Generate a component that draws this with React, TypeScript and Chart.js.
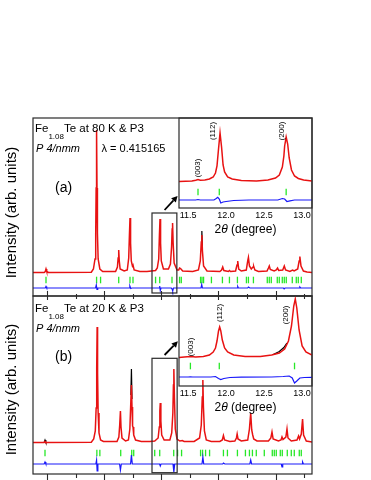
import React, { useEffect, useRef } from "react";
import { Chart, registerables } from "chart.js";
Chart.register(...registerables);

type P = [number, number | null];

// ---------- main panel (a): 80 K ----------
const calcA: P[] = [
  [3.0, 0.5], [3.8, 0.5], [3.88, 1.5], [3.93, 4], [3.98, 1.5], [4.1, 0.5],
  [7.1, 0.8], [7.25, 4], [7.36, 14], [7.41, 40], [7.44, 85], [7.47, 143], [7.5, 85], [7.53, 40], [7.58, 14], [7.7, 4], [7.9, 1.5],
  [8.8, 1.5], [8.93, 6], [8.98, 15], [9.02, 23], [9.06, 12], [9.12, 4], [9.4, 2],
  [9.62, 3], [9.72, 15], [9.77, 38], [9.81, 55], [9.85, 30], [9.9, 12], [9.98, 7], [10.02, 8], [10.1, 3], [10.5, 1.5],
  [11.0, 1.5], [11.6, 2.5], [11.72, 5], [11.82, 14], [11.87, 38], [11.91, 54], [11.95, 30], [12.0, 12], [12.15, 4],
  [12.5, 4], [12.64, 9], [12.72, 26], [12.76, 44], [12.79, 50], [12.83, 30], [12.9, 10], [13.1, 3], [13.22, 3], [13.28, 5], [13.35, 4.5], [13.5, 2],
  [14.2, 1.5], [14.6, 3], [14.73, 12], [14.8, 31], [14.84, 38], [14.88, 22], [14.96, 7], [15.2, 2],
  [16.1, 1.5], [16.22, 3], [16.3, 6], [16.38, 2.5], [16.7, 1.5], [16.77, 2.5], [16.85, 1.5],
  [17.2, 2], [17.3, 8], [17.35, 12], [17.42, 4], [17.6, 2],
  [17.95, 3], [18.05, 12], [18.1, 15.5], [18.17, 7], [18.3, 4], [18.42, 6], [18.47, 6.5], [18.55, 3], [18.8, 1.5],
  [19.4, 2], [19.5, 5], [19.56, 7], [19.63, 3.5], [19.9, 2], [20.05, 3], [20.14, 5], [20.22, 2.5],
  [20.5, 3], [20.61, 7], [20.7, 3], [21.0, 1.5], [21.19, 3], [21.3, 2], [21.55, 4], [21.65, 12], [21.7, 16.5], [21.78, 7], [21.95, 2], [22.2, 1], [22.6, 0.5],
];
const obsA: P[] = [[14.8, 28], [14.84, 42], [14.88, 24]];
const diffA: P[] = [
  [3.0, -15], [3.88, -15], [3.93, -13.5], [3.98, -15], [7.4, -15], [7.45, -12], [7.5, -16.5], [7.55, -15],
  [9.75, -15], [9.8, -13], [9.86, -15.5], [9.95, -15], [11.85, -15], [11.89, -13], [11.93, -17.5], [11.98, -15],
  [12.7, -15], [12.76, -16], [12.8, -18], [12.85, -15], [14.78, -15], [14.83, -11.5], [14.88, -15],
  [17.3, -15], [17.35, -13.5], [17.4, -15], [18.05, -15], [18.1, -14], [18.2, -15], [20.55, -15], [20.6, -15.8], [20.66, -15],
  [21.65, -15], [21.7, -14], [21.76, -15], [22.6, -15],
];
const braggA: number[] = [
  3.93, 7.47, 7.75, 9.02, 9.81, 10.02, 11.6, 11.89, 12.75, 13.28, 13.4,
  14.75, 14.85, 14.96, 15.51, 16.28, 16.77, 17.33, 17.96, 18.1, 18.45,
  19.42, 19.56, 19.7, 20.12, 20.26, 20.47, 20.61, 20.75, 21.17, 21.45, 21.59, 21.8,
];

// ---------- main panel (b): 20 K ----------
const calcB: P[] = [
  [3.0, 0.5], [3.8, 0.5], [3.86, 1.5], [3.92, 0.5],
  [7.1, 0.8], [7.27, 4], [7.38, 12], [7.44, 35], [7.48, 75], [7.51, 116], [7.54, 70], [7.58, 30], [7.64, 10], [7.75, 3], [7.95, 1.5],
  [8.9, 1.5], [9.03, 6], [9.09, 18], [9.14, 32], [9.18, 16], [9.25, 5], [9.5, 2],
  [9.7, 3], [9.8, 14], [9.87, 42], [9.91, 58], [9.95, 36], [9.99, 17], [10.02, 16], [10.07, 8], [10.2, 3], [10.6, 1.5],
  [11.2, 1.5], [11.54, 2], [11.78, 5], [11.86, 16], [11.9, 32], [11.93, 40], [11.97, 22], [12.03, 8], [12.2, 3],
  [12.6, 3], [12.73, 10], [12.81, 30], [12.85, 58], [12.88, 74], [12.92, 45], [12.98, 14], [13.1, 4], [13.3, 2], [13.47, 2.5], [13.6, 1.5],
  [14.3, 1.5], [14.68, 5], [14.8, 18], [14.87, 46], [14.91, 63], [14.95, 36], [15.02, 12], [15.15, 3], [15.5, 1.5],
  [16.1, 1.5], [16.27, 3], [16.35, 7.5], [16.43, 3], [16.8, 1.5],
  [17.15, 2], [17.26, 5], [17.31, 9], [17.37, 4], [17.6, 2],
  [18.05, 3], [18.17, 14], [18.26, 30], [18.33, 13], [18.4, 8], [18.47, 4], [18.7, 2],
  [19.5, 2], [19.67, 5], [19.75, 11], [19.83, 4], [20.2, 2], [20.38, 3], [20.45, 6], [20.52, 3.5],
  [20.72, 6], [20.8, 14], [20.87, 5], [21.1, 2], [21.5, 3], [21.61, 7], [21.68, 4], [21.8, 9], [21.89, 24], [21.96, 8], [22.15, 2], [22.6, 1],
];
const obsB: P[] = [[3.8, 0.5], [3.86, 3], [3.92, 0.5], [6, null], [9.87, 48], [9.91, 74], [9.95, 44]];
const diffB: P[] = [
  [3.0, -21], [3.8, -21], [3.86, -19], [3.92, -21], [7.42, -21], [7.47, -17], [7.51, -28], [7.56, -21],
  [9.08, -21], [9.14, -27], [9.2, -21], [9.85, -21], [9.91, -12], [9.97, -21], [11.88, -21], [11.93, -23], [11.98, -21],
  [12.82, -21], [12.88, -29], [12.94, -21], [14.85, -21], [14.91, -14], [14.97, -21], [16.3, -21], [16.35, -20], [16.45, -21],
  [18.2, -21], [18.26, -17], [18.32, -21], [20.4, -21], [20.45, -24], [20.5, -21], [21.85, -21], [21.89, -19], [21.95, -21], [22.6, -21],
];
const braggB: number[] = [
  3.86, 7.49, 7.7, 9.16, 9.93, 10.07, 11.54, 11.89, 12.87, 13.14, 13.42, 14.75, 14.89, 15.1, 15.38,
  16.35, 16.63, 17.33, 17.89, 18.17, 18.38, 18.65, 19.21, 19.77, 19.91, 20.05, 20.33, 20.47, 20.82, 21.1, 21.31, 21.66, 21.8,
];

// ---------- inset (a) ----------
const calcIA: P[] = [
  [11.38, 0.5], [11.55, 1], [11.6, 1.8], [11.63, 2.5], [11.66, 1.8], [11.72, 2], [11.78, 3], [11.83, 5], [11.86, 9],
  [11.88, 16], [11.9, 33], [11.92, 49], [11.94, 35], [11.96, 17], [11.98, 10], [12.02, 5], [12.08, 3], [12.2, 1.5], [12.4, 1],
  [12.55, 2], [12.65, 4], [12.7, 7], [12.74, 15], [12.76, 26], [12.77, 36], [12.79, 45], [12.81, 38], [12.83, 24], [12.86, 12],
  [12.9, 6], [12.95, 3.5], [13.02, 2], [13.13, 1],
];
const diffIA: P[] = [
  [11.38, -18], [11.6, -18], [11.63, -17.5], [11.66, -18], [11.84, -18], [11.87, -16.5], [11.89, -15.3], [11.91, -17],
  [11.93, -21], [11.96, -20], [12.0, -19.5], [12.1, -18.5], [12.3, -18], [12.68, -18], [12.74, -16.5], [12.77, -17],
  [12.8, -19.5], [12.84, -18.8], [12.9, -18], [13.13, -18],
];
const braggIA: number[] = [11.63, 11.91, 12.79];

// ---------- inset (b) ----------
const calcIB: P[] = [
  [11.38, 0.5], [11.45, 1], [11.53, 1.5], [11.6, 1], [11.7, 1.5], [11.78, 3], [11.83, 6], [11.86, 10], [11.88, 17],
  [11.9, 27], [11.915, 31], [11.93, 27], [11.95, 18], [11.98, 10], [12.02, 6], [12.1, 3], [12.25, 1.5], [12.45, 1.5],
  [12.6, 3], [12.7, 5], [12.77, 9], [12.82, 17], [12.86, 32], [12.89, 52], [12.91, 59], [12.93, 50], [12.96, 28],
  [13.0, 12], [13.05, 6], [13.13, 3],
];
const obsIB: P[] = [[12.62, 3.5], [12.7, 6.5], [12.76, 10.5], [12.8, 15]];
const diffIB: P[] = [
  [11.38, -19], [11.5, -19], [11.53, -18.8], [11.56, -19], [11.8, -19], [11.86, -18.5], [11.9, -20.5], [11.93, -21.5],
  [11.97, -20.5], [12.05, -19.5], [12.2, -19.2], [12.6, -19], [12.75, -18.5], [12.83, -18], [12.87, -20], [12.9, -25],
  [12.93, -23], [12.97, -20], [13.03, -19.5], [13.13, -19.3],
];
const braggIB: number[] = [11.53, 11.91, 12.9];

// ---------- ticks / labels ----------
const mainMajorTicks = [4, 8, 12, 16, 20];
const mainMinorTicks = [6, 10, 14, 18, 22];
const insetTicks = [11.5, 12.0, 12.5, 13.0];
const yTitle = "Intensity (arb. units)";
const titleA = ["Fe", "1.08", "Te at 80 K & P3"];
const titleB = ["Fe", "1.08", "Te at 20 K & P3"];
const groupLabel = "P 4/nmm";
const lambdaLabel = "\u03bb = 0.415165";
const hklIA: [string, number, number][] = [["(003)", 11.63, 14], ["(112)", 11.826, 51], ["(200)", 12.73, 51]];
const hklIB: [string, number, number][] = [["(003)", 11.54, 11], ["(112)", 11.92, 45], ["(200)", 12.786, 43]];

const FF = '"Liberation Sans", Arial, sans-serif';
const RED = "rgb(232,18,18)";
const BLUE = "rgb(24,24,250)";
const GREEN = "rgb(40,232,40)";
const FRAME = "#2a2a2a";

const xy = (a: P[]) => a.map(([x, y]) => ({ x, y }));

function datasets(calc: P[], obs: P[], diff: P[], bragg: number[], braggLevel: number) {
  return [
    { type: "line", data: xy(calc), borderColor: RED, borderWidth: 1.5, pointRadius: 0, tension: 0 },
    { type: "line", data: xy(obs), borderColor: "#000", borderWidth: 1.2, pointRadius: 0, tension: 0, spanGaps: false },
    { type: "line", data: xy(diff), borderColor: BLUE, borderWidth: 1.2, pointRadius: 0, tension: 0 },
    {
      type: "scatter", data: bragg.map((x) => ({ x, y: braggLevel })), showLine: false,
      pointStyle: "line", rotation: 90, pointRadius: 3.3, borderColor: GREEN, borderWidth: 1.3,
    },
  ];
}

function arrow(ctx: CanvasRenderingContext2D, x1: number, y1: number, x2: number, y2: number) {
  const ang = Math.atan2(y2 - y1, x2 - x1);
  const L = 6, W = 3.2;
  const bx = x2 - L * Math.cos(ang), by = y2 - L * Math.sin(ang);
  ctx.beginPath(); ctx.moveTo(x1, y1); ctx.lineTo(bx, by); ctx.stroke();
  ctx.beginPath(); ctx.moveTo(x2, y2);
  ctx.lineTo(bx + W * Math.sin(ang), by - W * Math.cos(ang));
  ctx.lineTo(bx - W * Math.sin(ang), by + W * Math.cos(ang));
  ctx.closePath(); ctx.fill();
}

type MainOpts = {
  title: string[]; letter: string; lambda: boolean; l1: number; l2: number; l3: number; yTitleCenter: number;
  box: [number, number, number, number]; arr: [number, number, number, number]; topPanel: boolean;
};

function mainDecor(o: MainOpts) {
  return {
    id: "mainDecor",
    afterDraw(chart: any) {
      const { ctx, chartArea: a, scales } = chart;
      const x = scales.x, y = scales.y;
      ctx.save();
      ctx.strokeStyle = FRAME; ctx.lineWidth = 1.2;
      ctx.strokeRect(a.left, a.top, a.right - a.left, a.bottom - a.top);
      ctx.lineWidth = 1.1;
      const tick = (v: number, up: number, down: number) => {
        const px = Math.round(x.getPixelForValue(v)) + 0.5;
        ctx.beginPath(); ctx.moveTo(px, a.bottom - up); ctx.lineTo(px, a.bottom + down); ctx.stroke();
      };
      mainMajorTicks.forEach((v) => (o.topPanel ? tick(v, 5, 4) : tick(v, 0, 6)));
      mainMinorTicks.forEach((v) => (o.topPanel ? tick(v, 2, 3) : tick(v, 0, 4)));
      // zoom box + arrow
      const [bx0, bx1, by0, by1] = o.box;
      ctx.lineWidth = 1.2;
      const X0 = x.getPixelForValue(bx0), X1 = x.getPixelForValue(bx1);
      const Y0 = y.getPixelForValue(by0), Y1 = y.getPixelForValue(by1);
      ctx.strokeRect(X0, Y0, X1 - X0, Y1 - Y0);
      ctx.fillStyle = "#000"; ctx.strokeStyle = "#000"; ctx.lineWidth = 1.8;
      arrow(ctx, x.getPixelForValue(o.arr[0]), y.getPixelForValue(o.arr[1]), x.getPixelForValue(o.arr[2]), y.getPixelForValue(o.arr[3]));
      // texts
      ctx.fillStyle = "#000"; ctx.textAlign = "left"; ctx.textBaseline = "alphabetic";
      let cx = a.left + 2;
      ctx.font = `11.5px ${FF}`; ctx.fillText(o.title[0], cx, a.top + o.l1); cx += ctx.measureText(o.title[0]).width;
      ctx.font = `8px ${FF}`; ctx.fillText(o.title[1], cx, a.top + o.l1 + 6.5); cx += ctx.measureText(o.title[1]).width;
      ctx.font = `11.5px ${FF}`; ctx.fillText(o.title[2], cx, a.top + o.l1);
      ctx.font = `italic 11px ${FF}`; ctx.fillText(groupLabel, a.left + 3, a.top + o.l2);
      if (o.lambda) { ctx.font = `11px ${FF}`; ctx.fillText(lambdaLabel, a.left + 68.5, a.top + o.l2); }
      ctx.font = `14px ${FF}`; ctx.fillText(o.letter, a.left + 22, a.top + o.l3);
      // y title
      ctx.save();
      ctx.translate(11.5, o.yTitleCenter); ctx.rotate(-Math.PI / 2);
      ctx.textAlign = "center"; ctx.textBaseline = "middle"; ctx.font = `15px ${FF}`;
      ctx.fillText(yTitle, 0, 0);
      ctx.restore();
      ctx.restore();
    },
  };
}

function insetDecor(hkl: [string, number, number][]) {
  return {
    id: "insetDecor",
    afterDraw(chart: any) {
      const { ctx, chartArea: a, scales } = chart;
      const x = scales.x, y = scales.y;
      ctx.save();
      ctx.strokeStyle = FRAME; ctx.lineWidth = 1.2;
      ctx.strokeRect(a.left, a.top, a.right - a.left, a.bottom - a.top);
      ctx.fillStyle = "#000";
      ctx.font = `8px ${FF}`; ctx.textAlign = "center"; ctx.textBaseline = "middle";
      hkl.forEach(([t, vx, vy]) => {
        ctx.save(); ctx.translate(x.getPixelForValue(vx), y.getPixelForValue(vy)); ctx.rotate(-Math.PI / 2);
        ctx.fillText(t, 0, 0); ctx.restore();
      });
      // axis title: 2θ (degree)
      const cy = a.bottom + 22;
      const parts: [string, string][] = [["2", `12px ${FF}`], ["\u03b8", `italic 12px ${FF}`], [" (degree)", `12px ${FF}`]];
      let w = 0;
      parts.forEach(([t, f]) => { ctx.font = f; w += ctx.measureText(t).width; });
      let cx = (a.left + a.right) / 2 - w / 2;
      ctx.textAlign = "left"; ctx.textBaseline = "middle";
      parts.forEach(([t, f]) => { ctx.font = f; ctx.fillText(t, cx, cy); cx += ctx.measureText(t).width; });
      ctx.restore();
    },
  };
}

function mainConfig(calc: P[], obs: P[], diff: P[], bragg: number[], level: number, ymin: number, ymax: number, padTop: number, o: MainOpts) {
  return {
    type: "line",
    data: { datasets: datasets(calc, obs, diff, bragg, level) },
    options: {
      responsive: false, animation: false, devicePixelRatio: 1, events: [],
      layout: { padding: { left: 33, right: 59, top: padTop, bottom: 6 } },
      plugins: { legend: { display: false }, tooltip: { enabled: false } },
      scales: {
        x: { type: "linear", min: 3.02, max: 22.55, display: false },
        y: { type: "linear", min: ymin, max: ymax, display: false },
      },
    },
    plugins: [mainDecor(o)],
  };
}

function insetConfig(calc: P[], obs: P[], diff: P[], bragg: number[], level: number, ymin: number, ymax: number, hkl: [string, number, number][]) {
  return {
    type: "line",
    data: { datasets: datasets(calc, obs, diff, bragg, level) },
    options: {
      responsive: false, animation: false, devicePixelRatio: 1, events: [],
      layout: { padding: { left: 9, right: 8, top: 8, bottom: 4 } },
      plugins: { legend: { display: false }, tooltip: { enabled: false } },
      scales: {
        x: {
          type: "linear", min: 11.38, max: 13.13, position: "bottom",
          grid: { display: false, drawTicks: false }, border: { display: false },
          ticks: {
            padding: 2, color: "#000", font: { size: 9, family: FF }, autoSkip: false, maxRotation: 0,
            callback: (v: any) => Number(v).toFixed(1),
          },
          afterBuildTicks: (s: any) => { s.ticks = insetTicks.map((v) => ({ value: v })); },
          afterFit: (s: any) => { s.height = 29; },
        },
        y: { type: "linear", min: ymin, max: ymax, display: false },
      },
    },
    plugins: [insetDecor(hkl)],
  };
}

function ChartCanvas(props: { left: number; top: number; width: number; height: number; make: () => any }) {
  const ref = useRef<HTMLCanvasElement>(null);
  useEffect(() => {
    const chart = new Chart(ref.current as HTMLCanvasElement, props.make());
    return () => chart.destroy();
  }, []);
  const { left, top, width, height } = props;
  return <canvas ref={ref} width={width} height={height} style={{ position: "absolute", left, top, width, height }} />;
}

export default function App() {
  useEffect(() => {
    document.body.style.margin = "0";
  }, []);
  return (
    <div style={{ position: "relative", width: 371, height: 480, overflow: "hidden", background: "#fff" }}>
      <ChartCanvas left={0} top={0} width={371} height={302}
        make={() => mainConfig(calcA, obsA, diffA, braggA, -7, -23, 155, 118, {
          title: titleA, letter: "(a)", lambda: true, l1: 14, l2: 34, l3: 74, yTitleCenter: 212.5,
          box: [11.35, 13.09, 60, -20], arr: [12.23, 63, 13.14, 77], topPanel: true,
        })} />
      <ChartCanvas left={0} top={290} width={371} height={190}
        make={() => mainConfig(calcB, obsB, diffB, braggB, -10, -31, 147, 6, {
          title: titleB, letter: "(b)", lambda: false, l1: 16, l2: 36, l3: 65, yTitleCenter: 99.5,
          box: [11.35, 13.11, 84.7, -29.7], arr: [12.23, 88, 13.16, 101.7], topPanel: false,
        })} />
      <ChartCanvas left={170} top={110} width={150} height={131}
        make={() => insetConfig(calcIA, [], diffIA, braggIA, -10, -26, 64, hklIA)} />
      <ChartCanvas left={170} top={288} width={150} height={131}
        make={() => insetConfig(calcIB, obsIB, diffIB, braggIB, -8, -28, 62, hklIB)} />
    </div>
  );
}
